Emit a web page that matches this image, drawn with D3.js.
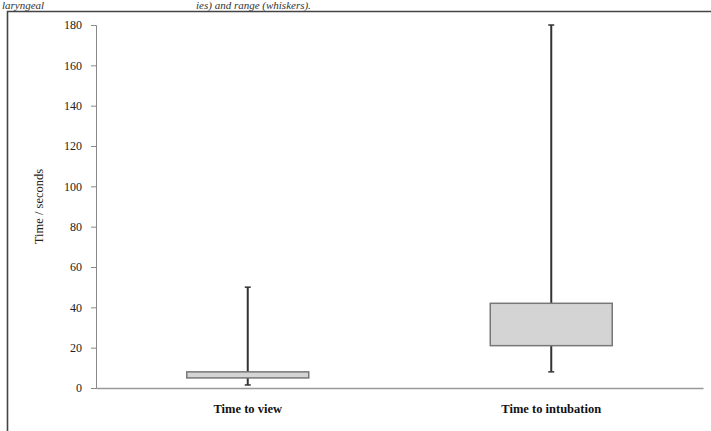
<!DOCTYPE html>
<html lang="en">
  <head>
    <meta charset="UTF-8" />
    <title>Time to view / intubation</title>
    <script src="https://d3js.org/d3.v7.min.js"></script>
    <style>
      body { margin: 0; background: #fff; }
      svg { display: block; }
    </style>
  </head>
  <body>
    <script>
      // box plot data (seconds)
      let categories = ["Time to view", "Time to intubation"];
      let minValues = [1.5, 8];
      let q1Values = [5, 21];
      let q3Values = [8, 42];
      let maxValues = [50, 180];
      let yTicks = [0, 20, 40, 60, 80, 100, 120, 140, 160, 180];

      let width = 711, height = 431;
      let margin = { left: 96, right: 8, top: 25, bottom: 43 };

      let svg = d3
        .select("body")
        .append("svg")
        .attr("width", width)
        .attr("height", height);

      // caption line from the page above the figure
      svg.append("text")
        .attr("x", 2)
        .attr("y", 9)
        .attr("font-family", "Liberation Serif")
        .attr("font-style", "italic")
        .attr("font-size", 11)
        .attr("fill", "#333")
        .text("laryngeal");
      svg.append("text")
        .attr("x", 196)
        .attr("y", 9)
        .attr("font-family", "Liberation Serif")
        .attr("font-style", "italic")
        .attr("font-size", 11)
        .attr("fill", "#333")
        .text("ies) and range (whiskers).");

      // frame
      svg.append("path")
        .attr("d", "M7.5," + height + "V11.5H" + width)
        .attr("fill", "none")
        .attr("stroke", "#444")
        .attr("stroke-width", 1.6);

      let x = d3
        .scaleBand()
        .domain(categories)
        .range([margin.left, width - margin.right]);

      let y = d3
        .scaleLinear()
        .domain([0, 180])
        .range([height - margin.bottom, margin.top]);

      // y axis
      let yAxis = svg
        .append("g")
        .attr("transform", "translate(" + margin.left + ",0)")
        .call(d3.axisLeft(y).tickValues(yTicks).tickSize(5).tickPadding(9));
      yAxis.select(".domain").attr("stroke", "#888");
      yAxis.selectAll(".tick line").attr("stroke", "#888");
      yAxis.selectAll("text")
        .attr("font-family", "Liberation Serif")
        .attr("font-size", 12)
        .attr("fill", "#222");

      // x axis
      let xAxis = svg
        .append("g")
        .attr("transform", "translate(0," + y(0) + ")")
        .call(d3.axisBottom(x).tickSize(0).tickPadding(16));
      xAxis.select(".domain").attr("stroke", "#999").attr("stroke-width", 1.3);
      xAxis.selectAll("text")
        .attr("font-family", "Liberation Serif")
        .attr("font-weight", "bold")
        .attr("font-size", 12.5)
        .attr("fill", "#111");

      // y title
      svg.append("text")
        .attr("transform", "translate(43," + y(90) + ") rotate(-90)")
        .attr("text-anchor", "middle")
        .attr("font-family", "Liberation Serif")
        .attr("font-size", 12.5)
        .attr("fill", "#222")
        .text("Time / seconds");

      let boxW = 122;
      let idx = d3.range(categories.length);
      let cx = function (i) { return x(categories[i]) + x.bandwidth() / 2; };

      // whiskers
      svg.selectAll(".whisker")
        .data(idx)
        .enter()
        .append("line")
        .attr("class", "whisker")
        .attr("x1", cx)
        .attr("x2", cx)
        .attr("y1", function (i) { return y(minValues[i]); })
        .attr("y2", function (i) { return y(maxValues[i]); })
        .attr("stroke", "#333")
        .attr("stroke-width", 2);

      // caps
      [minValues, maxValues].forEach(function (vals) {
        svg.selectAll(null)
          .data(idx)
          .enter()
          .append("line")
          .attr("x1", function (i) { return cx(i) - 3; })
          .attr("x2", function (i) { return cx(i) + 3; })
          .attr("y1", function (i) { return y(vals[i]); })
          .attr("y2", function (i) { return y(vals[i]); })
          .attr("stroke", "#333")
          .attr("stroke-width", 1.5);
      });

      // boxes
      svg.selectAll(".box")
        .data(idx)
        .enter()
        .append("rect")
        .attr("class", "box")
        .attr("x", function (i) { return cx(i) - boxW / 2; })
        .attr("width", boxW)
        .attr("y", function (i) { return y(q3Values[i]); })
        .attr("height", function (i) { return y(q1Values[i]) - y(q3Values[i]); })
        .attr("fill", "#d4d4d4")
        .attr("stroke", "#777")
        .attr("stroke-width", 1.5);
    </script>
  </body>
</html>
